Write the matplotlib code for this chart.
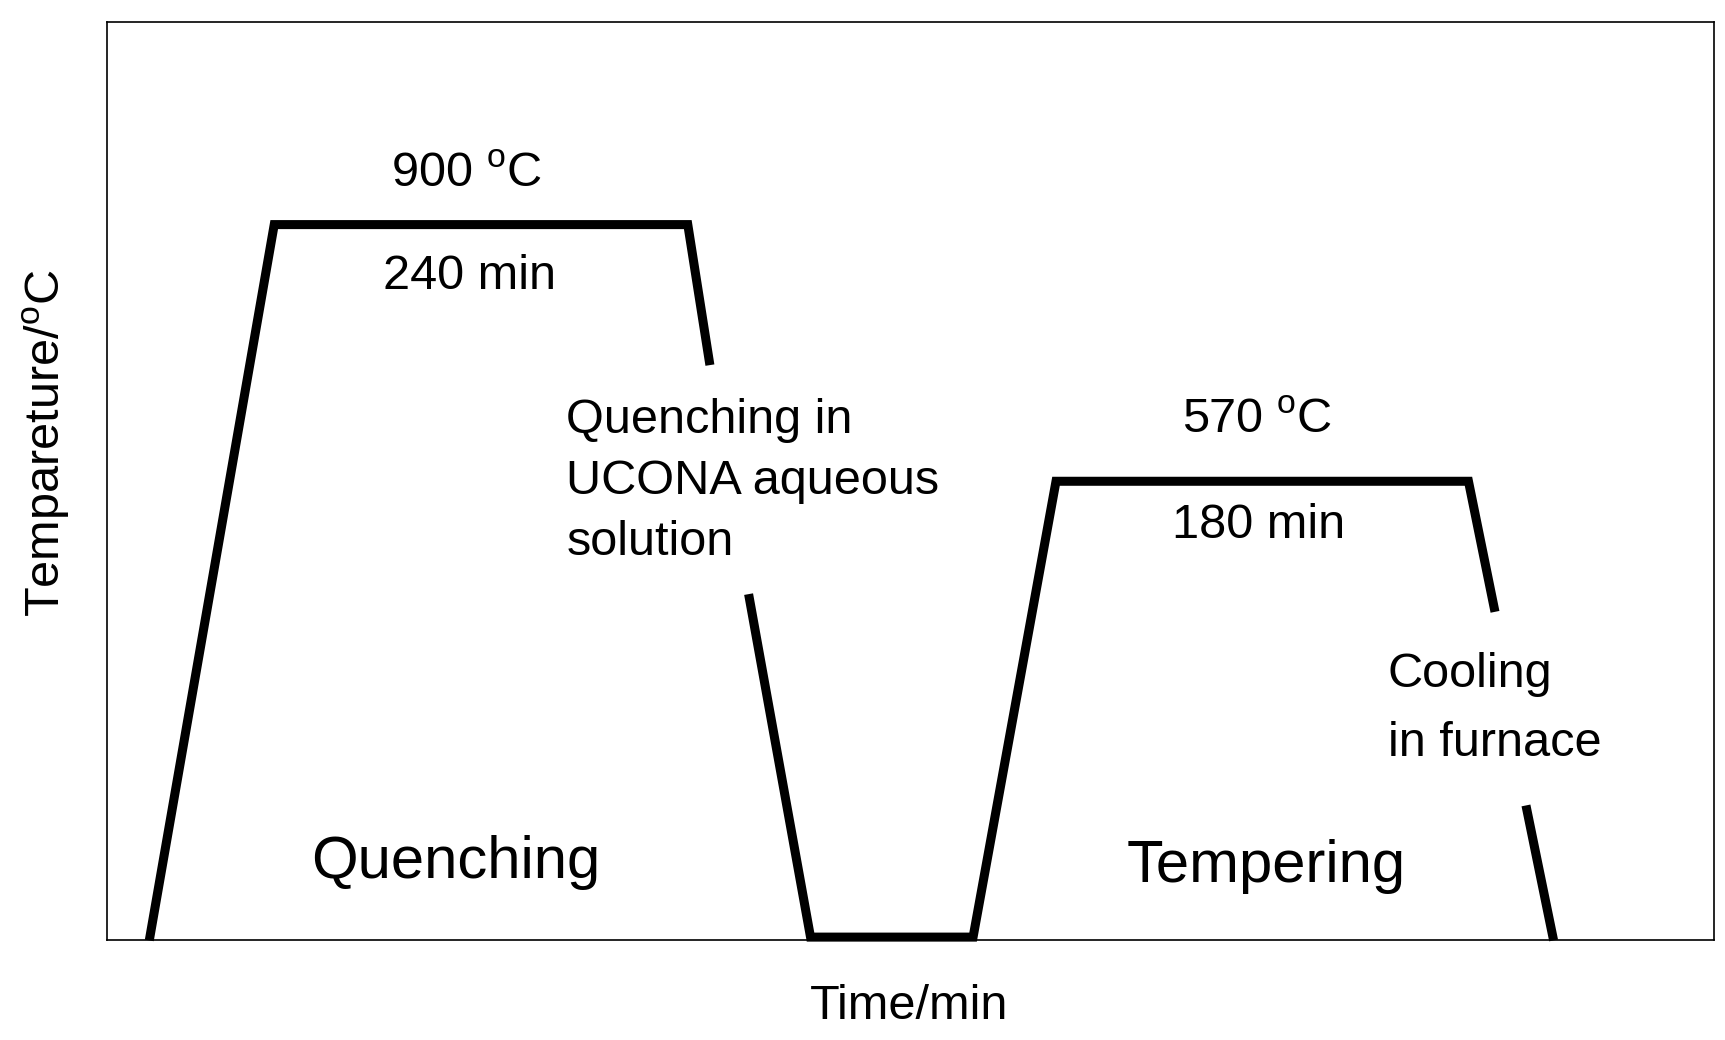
import matplotlib.pyplot as plt

plt.rcParams['font.family'] = ['Liberation Sans', 'DejaVu Sans']

# schematic heat-treatment path, in the chart's own (pixel-like) units
seg1_x = [135, 248, 622, 642]
seg1_y = [850, 203, 203, 330]
seg2_x = [677, 733, 880, 955, 1328, 1352]
seg2_y = [537, 847, 847, 435, 435, 553]
seg3_x = [1380, 1405]
seg3_y = [728, 850]

W, H = 1560, 940
fig = plt.figure(figsize=(17.25, 10.4), dpi=100)
ax = fig.add_axes([97 / W, 1 - 850 / H, (1550 - 97) / W, (850 - 20) / H])
ax.set_xlim(97, 1550)
ax.set_ylim(850, 20)

for xs, ys in [(seg1_x, seg1_y), (seg2_x, seg2_y), (seg3_x, seg3_y)]:
    ax.plot(xs, ys, color='black', lw=6.5, solid_joinstyle='miter',
            solid_capstyle='butt', clip_on=False)

fs = 35
ax.text(422, 158, "900 $^{\\mathregular{o}}$C", fontsize=fs, ha='center', va='center')
ax.text(425, 250, "240 min", fontsize=fs, ha='center', va='center')
ax.text(1137, 380, "570 $^{\\mathregular{o}}$C", fontsize=fs, ha='center', va='center')
ax.text(1138, 475, "180 min", fontsize=fs, ha='center', va='center')
for i, s in enumerate(["Quenching in", "UCONA aqueous", "solution"]):
    ax.text(512, 380 + 55 * i, s, fontsize=fs, ha='left', va='center')
for i, s in enumerate(["Cooling", "in furnace"]):
    ax.text(1255, 610 + 62 * i, s, fontsize=fs, ha='left', va='center')
ax.text(412, 780, "Quenching", fontsize=43, ha='center', va='center')
ax.text(1145, 783, "Tempering", fontsize=43, ha='center', va='center')

ax.set_xticks([])
ax.set_yticks([])
for sp in ax.spines.values():
    sp.set_linewidth(1.2)

fig.text(822 / W, 1 - 910 / H, "Time/min", fontsize=fs, ha='center', va='center')
fig.text(42 / W, 1 - 400 / H, "Temparetture/$^{\\mathregular{o}}$C".replace("etture", "eture"),
         fontsize=fs, ha='center', va='center', rotation=90)

fig.savefig("out.png")
